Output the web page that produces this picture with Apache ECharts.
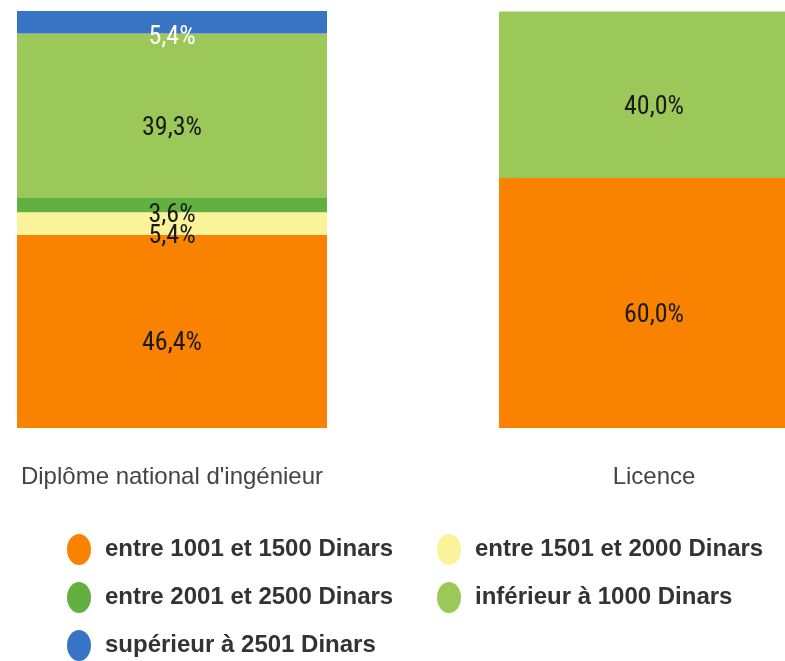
<!DOCTYPE html>
<html>
<head>
<meta charset="utf-8">
<script src="https://cdn.jsdelivr.net/npm/echarts@6/dist/echarts.min.js"></script>
<style>
  html, body { margin: 0; padding: 0; background: #fff; }
  /* The plot runs past the right edge of the page, so the chart canvas is
     wider than the visible frame and shifted left inside it. */
  #frame { width: 785px; height: 661px; overflow: hidden; position: relative; }
  #chart { position: absolute; left: -69px; top: 0; width: 964px; height: 661px; }
</style>
</head>
<body>
<div id="frame"><div id="chart"></div></div>
<script>
// Diplomas on the x axis, salary brackets stacked to 100%
const categories = ["Diplôme national d'ingénieur", "Licence"];

const seriesNames = [
  'entre 1001 et 1500 Dinars',
  'entre 1501 et 2000 Dinars',
  'entre 2001 et 2500 Dinars',
  'inférieur à 1000 Dinars',
  'supérieur à 2501 Dinars'
];

// Share of graduates per bracket (%), one value per diploma
const entre1001et1500 = [46.4, 60.0];
const entre1501et2000 = [5.4, 0];
const entre2001et2500 = [3.6, 0];
const inferieur1000 = [39.3, 40.0];
const superieur2501 = [5.4, 0];

const seriesValues = [entre1001et1500, entre1501et2000, entre2001et2500, inferieur1000, superieur2501];
const seriesColors = ['#f98300', '#fbf39a', '#62b03f', '#9bc858', '#3774c4'];
const labelColors = ['#1a1a1a', '#1a1a1a', '#1a1a1a', '#1a1a1a', '#ffffff'];
const labelShift = [12, 13, 11, 13, 15];

// Top of the value axis = tallest stack
const stackMax = Math.max(...categories.map((_, i) => seriesValues.reduce((s, arr) => s + arr[i], 0)));

const ellipse = 'path://M50,0 A50,50 0 1,1 50,100 A50,50 0 1,1 50,0 Z';

// Legend laid out in two columns: even-indexed series left, odd-indexed right
function legendColumn(names, left) {
  return {
    left: left,
    top: 534,
    padding: 0,
    orient: 'vertical',
    itemWidth: 24,
    itemHeight: 31,
    itemGap: 17,
    icon: ellipse,
    symbolKeepAspect: false,
    data: names,
    textStyle: {
      fontFamily: "'Liberation Sans', Arial, sans-serif",
      fontSize: 24,
      fontWeight: 'bold',
      color: '#333333',
      padding: [0, 0, 0, 9]
    }
  };
}

const chart = echarts.init(document.getElementById('chart'), null, { renderer: 'canvas' });

chart.setOption({
  animation: false,
  backgroundColor: '#ffffff',
  grid: { left: 0, right: 0, top: 11, bottom: 233, containLabel: false },
  xAxis: {
    type: 'category',
    data: categories,
    axisLine: { show: false },
    axisTick: { show: false },
    axisLabel: {
      margin: 37,
      fontFamily: "'Liberation Sans', Arial, sans-serif",
      fontSize: 24,
      color: '#444444'
    }
  },
  yAxis: {
    type: 'value',
    min: 0,
    max: stackMax,
    show: false,
    splitLine: { show: false }
  },
  legend: [
    legendColumn(seriesNames.filter((_, i) => i % 2 === 0), 136),
    legendColumn(seriesNames.filter((_, i) => i % 2 === 1), 506)
  ],
  series: seriesNames.map((name, k) => ({
    name: name,
    type: 'bar',
    stack: 'total',
    barWidth: 310,
    data: seriesValues[k].map(v => (v > 0 ? v : null)),
    itemStyle: { color: seriesColors[k] },
    label: {
      show: true,
      position: 'inside',
      offset: [0, labelShift[k]],
      color: labelColors[k],
      fontFamily: "'Roboto Condensed', Roboto, sans-serif",
      fontSize: 26,
      formatter: p => p.value.toFixed(1).replace('.', ',') + '%'
    }
  }))
});
</script>
</body>
</html>
